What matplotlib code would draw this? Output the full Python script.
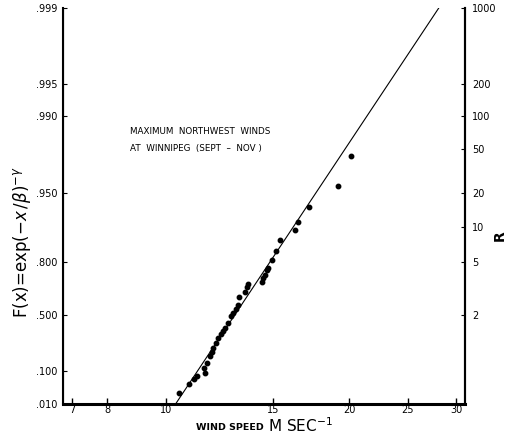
import numpy as np
import matplotlib

matplotlib.use("Agg")
import matplotlib.pyplot as plt

# observed annual maxima: wind speed (m/s) and plotting-position probability
speed = [10.49, 10.91, 11.12, 11.23, 11.55, 11.59, 11.69, 11.81, 11.90, 11.96,
         12.08, 12.19, 12.30, 12.40, 12.50, 12.66, 12.79, 12.90, 13.02, 13.12,
         13.18, 13.49, 13.59, 13.63, 14.37, 14.44, 14.55, 14.64, 14.70, 14.92,
         15.15, 15.40, 16.30, 16.51, 17.21, 19.20, 20.13]
prob = [0.027, 0.049, 0.067, 0.079, 0.118, 0.093, 0.144, 0.191, 0.220, 0.245,
        0.282, 0.321, 0.354, 0.380, 0.399, 0.442, 0.495, 0.513, 0.543, 0.571,
        0.625, 0.656, 0.684, 0.697, 0.711, 0.731, 0.744, 0.766, 0.776, 0.807,
        0.837, 0.869, 0.894, 0.909, 0.933, 0.957, 0.977]

# fitted distribution, straight on this paper: two end points
fit_speed = [10.37, 28.1]
fit_prob = [0.010, 0.999]

x_ticks = [7, 8, 10, 15, 20, 25, 30]
f_ticks = [0.010, 0.100, 0.500, 0.800, 0.950, 0.990, 0.995, 0.999]
f_labels = [".010", ".100", ".500", ".800", ".950", ".990", ".995", ".999"]
r_ticks = [2, 5, 10, 20, 50, 100, 200, 1000]


def fwd(f):
    f = np.clip(np.asarray(f, dtype=float), 1e-9, 1 - 1e-12)
    return -np.log(-np.log(f))


def inv(y):
    return np.exp(-np.exp(-np.asarray(y, dtype=float)))


plt.rcParams.update({
    "font.family": ["DejaVu Sans"],
    "xtick.labelsize": 7, "ytick.labelsize": 7,
})

fig = plt.figure(figsize=(5.16, 4.41), dpi=100)
ax = fig.add_axes([0.1221, 0.0839, 0.779, 0.898])
ax.set_xscale("log")
ax.set_yscale("function", functions=(fwd, inv))
ax.set_xlim(6.77, 31.03)
ax.set_ylim(0.010, 0.999)

ax.plot(fit_speed, fit_prob, color="black", linewidth=0.8)
ax.plot(speed, prob, "o", color="black", markersize=3.2)

ax.xaxis.set_minor_locator(matplotlib.ticker.NullLocator())
ax.set_xticks(x_ticks, [str(v) for v in x_ticks])
ax.yaxis.set_minor_locator(matplotlib.ticker.NullLocator())
ax.set_yticks(f_ticks, f_labels)
ax.tick_params(axis="x", direction="in", length=4, width=1, pad=1)
ax.tick_params(axis="y", direction="in", length=3, width=0.8, pad=4)

ax.spines["top"].set_visible(False)
ax.spines["bottom"].set_linewidth(2.2)
ax.spines["left"].set_linewidth(1.5)
ax.spines["right"].set_linewidth(1.5)

ax2 = ax.twinx()
ax2.set_yscale("function", functions=(fwd, inv))
ax2.set_ylim(ax.get_ylim())
ax2.yaxis.set_minor_locator(matplotlib.ticker.NullLocator())
ax2.set_yticks([1 - 1 / r for r in r_ticks], [str(r) for r in r_ticks])
ax2.tick_params(axis="y", direction="in", length=3, width=0.8, pad=5)
ax2.spines["top"].set_visible(False)
ax2.spines["right"].set_linewidth(1.5)

fig.text(0.043, 0.451, r"F(x)=exp$(-x\,/\beta)^{-\gamma}$", fontsize=12,
         rotation=90, ha="center", va="center")
fig.text(0.969, 0.465, "R", fontsize=10, fontweight="bold", rotation=90,
         ha="center", va="center")

ax.text(0.167, 0.689, "MAXIMUM  NORTHWEST  WINDS", transform=ax.transAxes,
        fontsize=6.3, ha="left", va="center")
ax.text(0.167, 0.646, "AT  WINNIPEG  (SEPT  –  NOV )", transform=ax.transAxes,
        fontsize=6.3, ha="left", va="center")

fig.text(0.380, 0.031, "WIND SPEED", fontsize=6.8, fontweight="bold",
         ha="left", va="center")
fig.text(0.520, 0.034, r"M SEC$^{-1}$", fontsize=11, ha="left", va="center")

fig.savefig("out.png", dpi=100, facecolor="white")
